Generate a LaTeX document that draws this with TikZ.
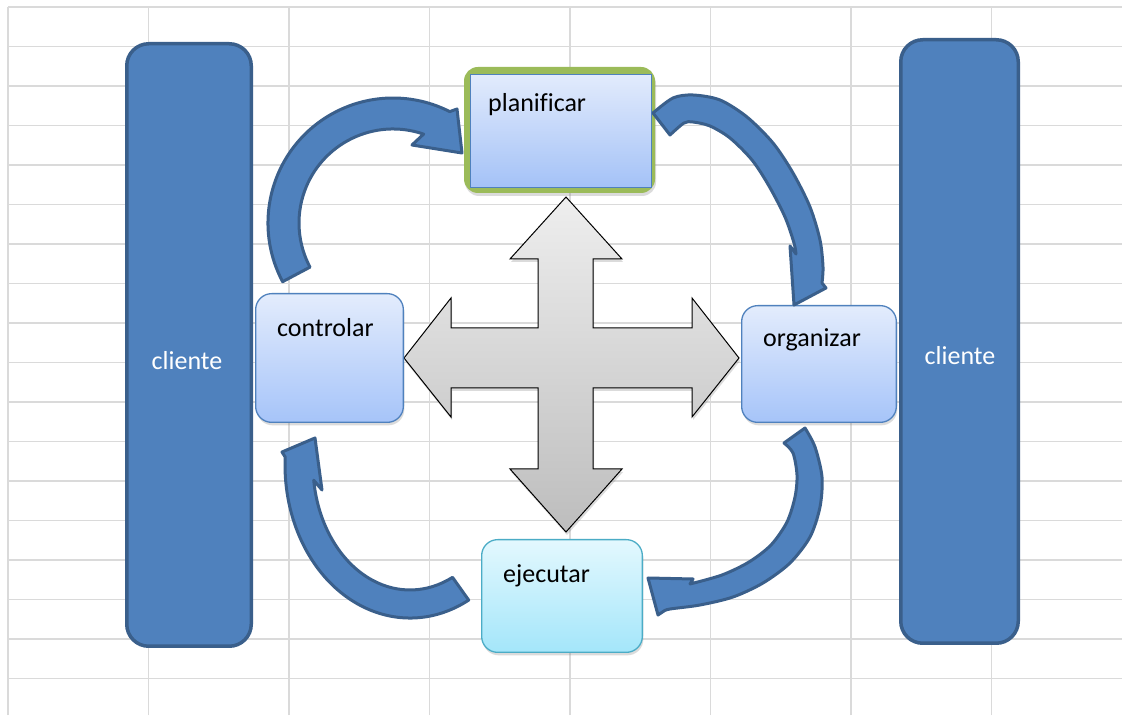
\documentclass[tikz,border=0pt]{standalone}
\usepackage{fontspec}
\setmainfont{Carlito}[Ligatures=CommonOff]
\usetikzlibrary{shadows,calc}
\definecolor{cfill}{HTML}{4F81BD}
\definecolor{cline}{HTML}{3A5F8B}
\definecolor{gridc}{HTML}{DADADA}
\definecolor{btop}{HTML}{E3ECFC}
\definecolor{bbot}{HTML}{A6C4F9}
\definecolor{bline}{HTML}{4F81BD}
\definecolor{ptop}{HTML}{E2EBFC}
\definecolor{pbot}{HTML}{A4C2F7}
\definecolor{etop}{HTML}{E3F8FE}
\definecolor{ebot}{HTML}{A4E6FA}
\definecolor{eline}{HTML}{4BACC6}
\definecolor{pgreen}{HTML}{9BBB59}
\definecolor{gtop}{HTML}{EEEEEE}
\definecolor{gbot}{HTML}{BDBDBD}
\tikzset{
  gridline/.style={draw=gridc, line width=1.4pt},
  clientbox/.style={draw=cline, fill=cfill, line width=3.5pt, rounded corners=22pt, inner sep=0pt},
  softshadow/.style={drop shadow={opacity=0.28, shadow xshift=1pt, shadow yshift=-3pt}},
  bluebox/.style={draw=bline, line width=1.3pt, rounded corners=16pt, top color=btop, bottom color=bbot, inner sep=0pt, softshadow},
  cyanbox/.style={bluebox, draw=eline, top color=etop, bottom color=ebot},
  lbl/.style={inner sep=0pt, font=\fontsize{26}{30}\selectfont},
  barrow/.style={draw=cline, fill=cfill, line width=3pt, line join=round},
  crossarrow/.style={draw=black, line width=1pt, line join=miter, top color=gtop, bottom color=gbot, softshadow}
}
\begin{document}
\begin{tikzpicture}[x=1pt,y=1pt]
\useasboundingbox (0,0) rectangle (1122,715);
\fill[white] (0,0) rectangle (1122,715);
% spreadsheet grid
\foreach \i in {0,...,7} \draw[gridline] ({8+140.5*\i},0) -- ({8+140.5*\i},708);
\foreach \j in {0,...,17} \draw[gridline] (8,{708-39.5*\j}) -- (1122,{708-39.5*\j});

% client columns
\node[clientbox, minimum width=124.5pt, minimum height=602.5pt] (cl1) at (189,370) {};
\node[clientbox, minimum width=117.5pt, minimum height=603.5pt] (cl2) at (959.5,373.5) {};
\node[lbl, text=white, anchor=base] (tcl1) at (187,345) {cliente};
\node[lbl, text=white, anchor=base] (tcl2) at (960,350) {cliente};

% central four-way arrow
\draw[crossarrow] (566,518) -- (622,456) -- (593,456) -- (593,387) -- (692,387) -- (692,417)
  -- (739,357) -- (692,298) -- (692,327) -- (593,327) -- (593,246) -- (622,246) -- (566,183)
  -- (510,246) -- (538,246) -- (538,327) -- (451,327) -- (451,298) -- (404,357) -- (451,417)
  -- (451,387) -- (538,387) -- (538,456) -- (510,456) -- cycle;

% process boxes
\node[fill=pgreen, rounded corners=14pt, minimum width=191pt, minimum height=126pt, inner sep=0pt, softshadow] (planG) at (559.5,585) {};
\node[draw=bline, line width=1pt, top color=ptop, bottom color=pbot, minimum width=181pt, minimum height=113pt, inner sep=0pt] (plan) at (561,584) {};
\node[bluebox, minimum width=147.7pt, minimum height=128.7pt] (ctrl) at (329.5,357) {};
\node[bluebox, minimum width=154.7pt, minimum height=116.7pt] (org) at (819,351) {};
\node[cyanbox, minimum width=160.7pt, minimum height=112.7pt] (ejec) at (562,119) {};
\node[lbl, anchor=base west] (tplan) at (488,603) {planificar};
\node[lbl, anchor=base west] (tctrl) at (277,378) {controlar};
\node[lbl, anchor=base west] (torg) at (763,368) {organizar};
\node[lbl, anchor=base west] (tejec) at (503,132) {ejecutar};

% curved arrows
\coordinate (ctl) at (393,492);
\draw[barrow] (ctl) ++(208:125) arc[start angle=208, end angle=63, radius=125]
  -- (457,606) -- (462,562) -- (412,570) -- ($(ctl)+(71:94)$)
  arc[start angle=71, end angle=208, radius=94] -- cycle;

\draw[barrow] plot[smooth] coordinates {(653,602) (673,617) (693,620) (720,615) (747,598) (773,572) (793,542) (810,508) (820,475) (823,448) (822,432)}
  -- (826,427) -- (794,410) -- (790,469)
  -- plot[smooth] coordinates {(796,461) (794,472) (785,498) (769,529) (752,555) (730,577) (710,589) (693,593) (684,592) (670,580)} -- cycle;

\draw[barrow] plot[smooth] coordinates {(805,287) (815,268) (822,238) (820,208) (810,178) (790,152) (763,132) (733,118) (700,110) (670,106) (664,104)}
  -- (658,100) -- (648,137) -- (693,136)
  -- plot[smooth] coordinates {(690,131) (722,140) (749,153) (771,170) (787,193) (795,218) (797,240) (793,262) (784,272)} -- cycle;

\coordinate (cbl) at (410,250);
\draw[barrow] (cbl) ++(-62:125 and 153) arc[start angle=-62, end angle=-183, x radius=125, y radius=153]
  -- (282,263) -- (315,277) -- (322,225) -- ($(cbl)+(-173:97 and 125)$)
  arc[start angle=-173, end angle=-64, x radius=97, y radius=125] -- cycle;
\end{tikzpicture}
\end{document}
